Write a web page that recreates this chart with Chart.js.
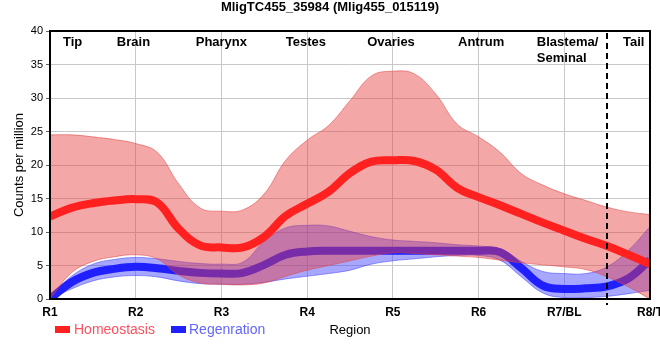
<!DOCTYPE html>
<html>
<head>
<meta charset="utf-8">
<script src="https://cdn.jsdelivr.net/npm/chart.js@4.4.1/dist/chart.umd.min.js"></script>
<style>
  body { margin: 0; background: #fff; }
  canvas { display: block; }
</style>
</head>
<body>
<canvas id="graph" width="660" height="360"></canvas>
<script>
// posiciones a lo largo del gusano (1 = R1 ... 8 = R8/T)
let posiciones = [1, 1.25, 1.5, 1.75, 2, 2.25, 2.5, 2.75, 3, 3.25, 3.5, 3.75, 4, 4.25, 4.5,
                  4.75, 5, 5.25, 5.5, 5.75, 6, 6.25, 6.5, 6.75, 7, 7.25, 7.5, 7.75, 8];

// Homeostasis: media y banda
let homMedia = [12.3, 13.6, 14.3, 14.7, 14.9, 14.4, 10.5, 8.0, 7.7, 7.7, 9.3, 12.4, 14.2, 16.0, 18.8,
                20.5, 20.7, 20.6, 19.3, 16.6, 15.2, 14.0, 12.7, 11.4, 10.2, 9.0, 7.9, 6.6, 5.2];
let homAlto  = [24.5, 24.5, 24.2, 23.8, 23.2, 21.9, 17.2, 13.6, 13.1, 13.3, 15.7, 20.7, 23.7, 25.9, 29.6,
                33.3, 34.0, 33.6, 30.6, 26.1, 24.2, 21.9, 18.7, 17.0, 15.7, 14.7, 13.7, 13.0, 12.6];
let homBajo  = [0, 3.9, 5.6, 6.3, 6.6, 6.0, 3.6, 2.4, 2.2, 2.1, 2.4, 3.4, 4.3, 5.0, 5.7,
                6.4, 6.9, 6.8, 6.6, 6.4, 6.2, 5.8, 5.4, 5.1, 4.8, 4.4, 3.3, 1.8, 0];

// Regeneracion: media y banda
let regMedia = [0, 2.5, 3.9, 4.5, 4.8, 4.6, 4.2, 3.9, 3.8, 3.9, 5.1, 6.6, 7.1, 7.2, 7.2,
                7.2, 7.2, 7.2, 7.2, 7.2, 7.2, 7.0, 4.6, 2.0, 1.5, 1.6, 1.9, 3.1, 5.8];
let regAlto  = [0.3, 3.4, 5.2, 5.9, 6.2, 6.0, 5.6, 5.3, 5.2, 5.5, 8.6, 10.6, 11.0, 10.9, 10.1,
                9.3, 8.8, 8.6, 8.4, 8.1, 7.9, 7.5, 5.6, 4.1, 3.8, 3.8, 4.8, 7.3, 10.8];
let regBajo  = [0, 1.5, 2.7, 3.3, 3.5, 3.3, 2.7, 2.3, 2.2, 2.2, 2.5, 3.0, 3.4, 3.8, 4.3,
                5.2, 5.7, 6.0, 6.3, 6.5, 6.5, 5.8, 3.3, 0.9, 0.2, 0.2, 0.4, 0.8, 1.3];

let etiquetasX = ["R1", "R2", "R3", "R4", "R5", "R6", "R7/BL", "R8/T"];
let regiones = ["Tip", "Brain", "Pharynx", "Testes", "Ovaries", "Antrum", "Blastema/\nSeminal", "Tail"];
let regionesEn = [1.152, 1.78, 2.70, 3.75, 4.70, 5.76, 6.68, 7.685];
let corte = 7.5;

const fuente = "'Liberation Sans', Arial, sans-serif";
let graph = document.querySelector("#graph");

function puntos(valores) {
    return posiciones.map((x, i) => ({ x: x, y: valores[i] }));
}

function linea(label, valores, color, ancho, orden, extra) {
    return Object.assign({
        label: label,
        data: puntos(valores),
        borderColor: color,
        borderWidth: ancho,
        pointRadius: 0,
        pointHoverRadius: 0,
        fill: false,
        tension: 0.4,
        clip: 0,
        order: orden
    }, extra || {});
}

// textos de regiones, linea discontinua, marco y leyenda
const extras = {
    id: 'extras',
    afterDatasetsDraw(chart) {
        const ctx = chart.ctx;
        const a = chart.chartArea;
        const x = chart.scales.x;
        ctx.save();
        // marco
        ctx.strokeStyle = '#000';
        ctx.lineWidth = 2;
        ctx.strokeRect(a.left, a.top, a.right - a.left, a.bottom - a.top);
        // corte entre Blastema y cola
        const xc = Math.round(x.getPixelForValue(corte));
        ctx.setLineDash([6, 4]);
        ctx.beginPath();
        ctx.moveTo(xc, a.top + 2);
        ctx.lineTo(xc, a.bottom + 6);
        ctx.stroke();
        ctx.setLineDash([]);
        // regiones
        ctx.fillStyle = '#000';
        ctx.font = "bold 13px " + fuente;
        ctx.textAlign = 'left';
        ctx.textBaseline = 'middle';
        regiones.forEach((r, i) => {
            const px = x.getPixelForValue(regionesEn[i]);
            r.split("\n").forEach((t, j) => ctx.fillText(t, px, a.top + 11 + j * 16));
        });
        ctx.restore();
    },
    afterDraw(chart) {
        const ctx = chart.ctx;
        const items = [
            { ds: chart.data.datasets[0], box: 55, txt: 74, texto: '#ff5060' },
            { ds: chart.data.datasets[3], box: 171, txt: 189, texto: '#6464ff' }
        ];
        ctx.save();
        ctx.font = "14px " + fuente;
        ctx.textAlign = 'left';
        ctx.textBaseline = 'middle';
        items.forEach(it => {
            ctx.fillStyle = it.ds.borderColor;
            ctx.fillRect(it.box, 326, 15, 7);
            ctx.fillStyle = it.texto;
            ctx.fillText(it.ds.label, it.txt, 330);
        });
        ctx.restore();
    }
};

const datos = {
    datasets: [
        linea("Homeostasis", homMedia, '#ff2020', 8, 0),
        linea("homAlto", homAlto, 'rgba(225,70,70,0.55)', 1, 1,
              { fill: 2, backgroundColor: 'rgba(230,60,60,0.45)' }),
        linea("homBajo", homBajo, 'rgba(225,70,70,0.55)', 1, 2),
        linea("Regenration", regMedia, '#2020ff', 8, 3),
        linea("regAlto", regAlto, 'rgba(60,60,255,0.5)', 1, 4,
              { fill: 5, backgroundColor: 'rgba(60,60,255,0.45)' }),
        linea("regBajo", regBajo, 'rgba(60,60,255,0.5)', 1, 5)
    ]
};

const config = {
    type: 'line',
    data: datos,
    plugins: [extras],
    options: {
        responsive: false,
        animation: false,
        events: [],
        layout: { padding: 0 },
        plugins: {
            legend: { display: false },
            tooltip: { enabled: false },
            title: {
                display: true,
                text: 'MligTC455_35984 (Mlig455_015119)',
                color: '#000',
                font: { family: fuente, size: 13, weight: 'bold' },
                padding: { top: 0, bottom: 15.4 }
            }
        },
        scales: {
            x: {
                type: 'linear',
                min: 1,
                max: 8,
                afterFit(s) { s.height = 61; s.paddingLeft = 0; s.paddingRight = 0; },
                grid: { color: '#c8c8c8', lineWidth: 1, drawTicks: false },
                border: { color: '#000', width: 2 },
                ticks: {
                    stepSize: 1,
                    autoSkip: false,
                    maxRotation: 0,
                    padding: 6,
                    color: '#000',
                    font: { family: fuente, size: 12, weight: 'bold' },
                    callback: (v) => etiquetasX[v - 1]
                },
                title: {
                    display: true,
                    text: 'Region',
                    color: '#000',
                    font: { family: fuente, size: 13 },
                    padding: { top: 0, bottom: 22 }
                }
            },
            y: {
                min: 0,
                max: 40,
                afterFit(s) { s.width = 50; },
                grid: { color: '#c8c8c8', lineWidth: 1, tickLength: 4, tickColor: '#666' },
                border: { color: '#000', width: 2 },
                ticks: {
                    stepSize: 5,
                    padding: 3,
                    color: '#000',
                    font: { family: fuente, size: 11 }
                },
                title: {
                    display: true,
                    text: 'Counts per million',
                    color: '#000',
                    font: { family: fuente, size: 13 },
                    padding: { top: 12, bottom: 0 }
                }
            },
            derecha: {
                position: 'right',
                afterFit(s) { s.width = 10; },
                grid: { display: false },
                border: { display: false },
                ticks: { display: false }
            }
        }
    }
};

new Chart(graph, config);
</script>
</body>
</html>
